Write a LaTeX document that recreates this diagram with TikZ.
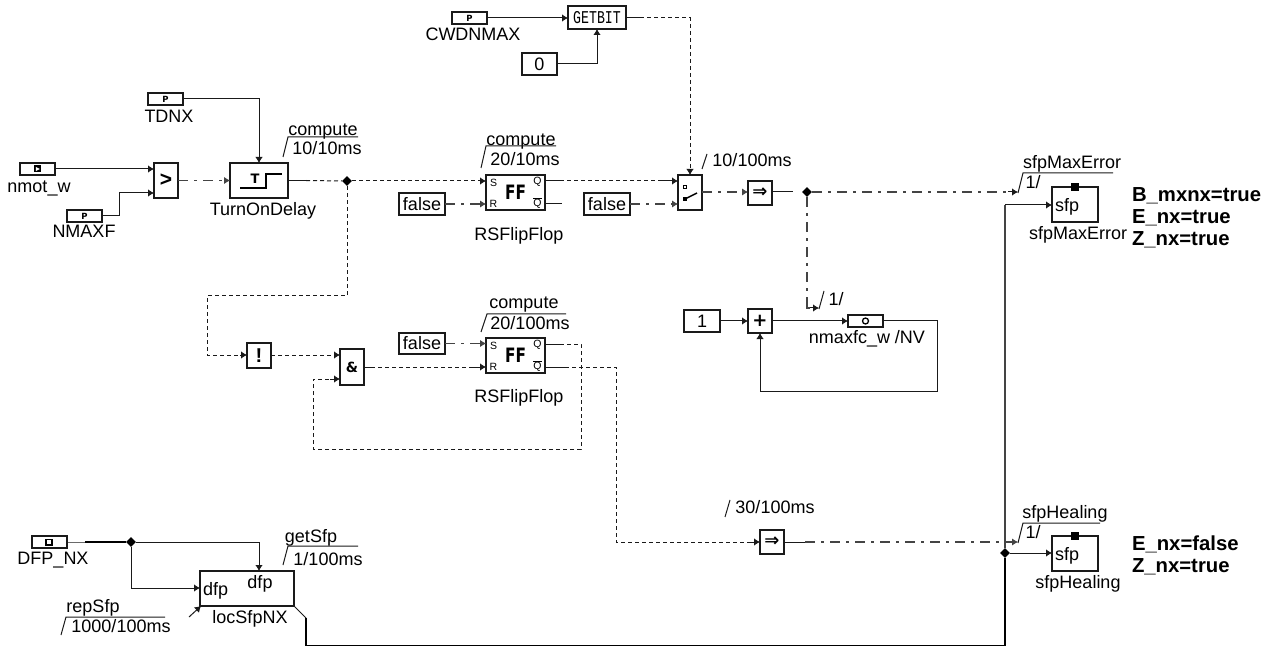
\documentclass[tikz,border=0pt]{standalone}
\usepackage{fontspec}
\setmainfont{Liberation Sans}
\newfontfamily\djv{DejaVu Sans}
\newfontfamily\lmono{Liberation Mono}
\usetikzlibrary{arrows.meta,calc,shapes.geometric}
\definecolor{ln}{HTML}{1a1a1a}
\definecolor{gl}{HTML}{444444}
\tikzset{
  x=1pt,y=-1pt,
  blk/.style={draw=ln,line width=1.1pt,fill=white,inner sep=0pt,outer sep=0pt,font=\fontsize{18}{18}\selectfont},
  lbl/.style={inner sep=0pt,outer sep=0pt,yshift=-1pt,text height=13pt,text depth=4pt,font=\fontsize{18}{18}\selectfont},
  boldlbl/.style={inner sep=0pt,outer sep=0pt,anchor=west,yshift=-1.5pt,text height=14pt,text depth=4pt,font=\fontsize{20.3}{20.3}\selectfont\bfseries},
  sm/.style={inner sep=0pt,outer sep=0pt,font=\fontsize{10.5}{10.5}\selectfont},
  icp/.style={inner sep=0pt,outer sep=0pt,font=\djv\bfseries\fontsize{8.5}{8.5}\selectfont},
  sig/.style={draw=ln,line width=1pt,line join=miter},
  dots/.style={draw=ln,line width=1pt,dash pattern=on 4pt off 3pt},
  dd/.style={draw=gl,line width=1.1pt,dash pattern=on 10pt off 6pt on 3pt off 6pt},
  ar/.style={-{Latex[length=6pt,width=7.5pt]}},
  thickw/.style={draw=black,line width=1.8pt},
  tickl/.style={draw=ln,line width=1pt},
  jn/.style={diamond,fill=black,inner sep=0pt,minimum size=10pt},
}
\newcommand{\blkb}[6]{\node[blk,minimum width=(#4-#2)*1pt,minimum height=(#5-#3)*1pt] (#1) at ({(#2+#4)/2},{(#3+#5)/2}) {#6};}
\newcommand{\ffmark}{\scalebox{.85}[1.1]{\djv\bfseries FF}}
\begin{document}
\begin{tikzpicture}
\useasboundingbox (0,0) rectangle (1270,647);
% ---- parameter / value blocks
\blkb{nmot}{20}{163}{55}{175}{}
\blkb{nmaxf}{67}{210}{102}{222}{}
\blkb{tdnx}{148}{93}{183}{105}{}
\blkb{cwd}{452}{12}{487}{24}{}
\blkb{dfpnx}{32}{536}{67}{548}{}
\blkb{nvb}{848}{315}{883}{327}{}
\blkb{gt}{154}{163}{178}{198}{\fontsize{21}{21}\selectfont\bfseries >}
\blkb{tod}{230}{163}{288}{198}{}
\blkb{getb}{568}{6}{626}{29}{\scalebox{.88}[1.2]{\lmono\fontsize{15}{15}\selectfont GETBIT}}
\blkb{zero}{522}{53}{557}{75}{0}
\blkb{ffa}{486}{175}{545}{210}{\ffmark}
\blkb{ffb}{486}{338}{545}{373}{\ffmark}
\blkb{fa}{399}{193}{445}{215}{false}
\blkb{fb}{584}{193}{630}{215}{false}
\blkb{fc}{399}{333}{445}{354}{false}
\blkb{sw}{678}{175}{702}{210}{}
\blkb{ia}{748}{181}{772}{205}{\djv\bfseries ⇒}
\blkb{ib}{760}{530}{784}{554}{\djv\bfseries ⇒}
\blkb{one}{684}{310}{720}{332}{1}
\blkb{plus}{748}{309}{772}{333}{\djv\bfseries +}
\blkb{nota}{247}{343}{271}{368}{\fontsize{20}{20}\selectfont\bfseries !}
\blkb{anda}{340}{349}{364}{385}{\djv\bfseries\fontsize{14}{14}\selectfont \&}
\blkb{sfpa}{1052}{187}{1098}{222}{}
\blkb{sfpb}{1052}{536}{1098}{571}{}
\blkb{loc}{200}{571}{294}{606}{}
% ---- icons
\node[icp] (pa) at (84.5,216) {P};
\node[icp] (pb) at (165.5,99) {P};
\node[icp] (pc) at (469.5,18) {P};
\fill[black] (34,165.5) rectangle (41,172.5);
\fill[white] (35.8,167) -- (39.8,169) -- (35.8,171) -- cycle;
\fill[black] (45,538.5) rectangle (53,546);
\fill[white] (46.5,540) rectangle (50.5,544);
\draw[black,line width=1.3pt] (865.5,321) circle (3);
\fill[black] (1071,183) rectangle (1079,191);
\fill[black] (1071,532) rectangle (1079,540);
\draw[black,line width=2pt] (240,188) -- (266,188) -- (266,174) -- (282,174);
\node[inner sep=0pt,font=\djv\bfseries\fontsize{13}{13}\selectfont] (tt) at (255,179) {T};
\draw[black,line width=1pt] (685,187) +(-1.5,-1.5) rectangle +(1.5,1.5);
\fill[black] (683,197) rectangle (687,201);
\draw[black,line width=1.4pt] (685,199) -- (697,193);
\node[sm] (sa) at (493.5,183) {S};
\node[sm] (ra) at (493.5,204) {R};
\node[sm] (qa) at (537.5,182) {Q};
\node[sm] (qba) at (537.5,203) {$\overline{\mbox{Q}}$};
\node[sm] (sb) at (493.5,346) {S};
\node[sm] (rb) at (493.5,367) {R};
\node[sm] (qb) at (537.5,345) {Q};
\node[sm] (qbb) at (537.5,366) {$\overline{\mbox{Q}}$};
% ---- labels
\node[lbl] (l1) at (39,187) {nmot\_w};
\node[lbl] (l2) at (84,232) {NMAXF};
\node[lbl] (l3) at (169,117) {TDNX};
\node[lbl] (l4) at (263,210) {TurnOnDelay};
\node[lbl] (l5) at (323,130) {compute};
\node[lbl] (l6) at (327,149) {10/10ms};
\node[lbl] (l7) at (473,35) {CWDNMAX};
\node[lbl] (l8) at (521,140) {compute};
\node[lbl] (l9) at (525,160) {20/10ms};
\node[lbl] (l10) at (519,235) {RSFlipFlop};
\node[lbl] (l11) at (752,161) {10/100ms};
\node[lbl] (l12) at (524,303) {compute};
\node[lbl] (l13) at (530,324) {20/100ms};
\node[lbl] (l14) at (519,397) {RSFlipFlop};
\node[lbl] (l15) at (836,300) {1/};
\node[lbl] (l16) at (867,338) {nmaxfc\_w /NV};
\node[lbl] (l17) at (1072,163) {sfpMaxError};
\node[lbl] (l18) at (1033,183) {1/};
\node[lbl,anchor=west] (l19) at (1055,206) {sfp};
\node[lbl] (l20) at (1078,234) {sfpMaxError};
\node[lbl] (l21) at (1065,513) {sfpHealing};
\node[lbl] (l22) at (1033,533) {1/};
\node[lbl,anchor=west] (l23) at (1055,555) {sfp};
\node[lbl] (l24) at (1078,583) {sfpHealing};
\node[lbl] (l25) at (775,508) {30/100ms};
\node[lbl] (l26) at (53,559) {DFP\_NX};
\node[lbl] (l27) at (311,537) {getSfp};
\node[lbl] (l28) at (328,560) {1/100ms};
\node[lbl,anchor=west] (l29) at (203,590) {dfp};
\node[lbl] (l30) at (260,583) {dfp};
\node[lbl] (l31) at (250,618) {locSfpNX};
\node[lbl] (l32) at (93,607) {repSfp};
\node[lbl] (l33) at (121,627) {1000/100ms};
\node[boldlbl] (b1) at (1132,195) {B\_mxnx=true};
\node[boldlbl] (b2) at (1132,217) {E\_nx=true};
\node[boldlbl] (b3) at (1132,239) {Z\_nx=true};
\node[boldlbl] (b4) at (1132,544) {E\_nx=false};
\node[boldlbl] (b5) at (1132,566) {Z\_nx=true};
% ---- tick marks
\draw[tickl] (283,157) -- (288,137) -- (358,137);
\draw[tickl] (481,168) -- (486,146) -- (556,146);
\draw[tickl] (702,169) -- (707,154);
\draw[tickl] (481,332) -- (487,314) -- (566,314);
\draw[tickl] (819,309) -- (824,291);
\draw[tickl] (1018,193) -- (1023,173) -- (1113,173);
\draw[tickl] (1018,543) -- (1023,523) -- (1100,523);
\draw[tickl] (725,517) -- (730,500);
\draw[tickl] (283,565) -- (288,546) -- (358,546);
\draw[tickl] (61,635) -- (66,617) -- (165,617);
\draw[tickl,ar] (189,617) -- (201,606);
% ---- junctions
\node[jn] (j1) at (347,181) {};
\node[jn] (j2) at (807,192) {};
\node[jn] (j3) at (1005,553) {};
\node[jn] (j4) at (131,542) {};
% ---- way points
\coordinate (tf) at (1018,192);
\coordinate (thf) at (1018,542);
\coordinate (nvt) at (819,308);
% ---- connectors
\draw[sig,ar] (nmot.east) -- (gt.west |- nmot.east);
\draw[sig,ar] (nmaxf.east) -- (119,216) -- (119,193) -- (gt.west |- 0,193);
\draw[sig,ar] (tdnx.east) -- (tod.north |- tdnx.east) -- (tod.north);
\draw[sig,ar] (cwd.east) -- (getb.west |- cwd.east);
\draw[sig,ar] (zero.east) -- (597,64) -- (597,29);
\draw[dd,ar] (gt.east |- tod.east) -- (tod.west);
\draw[sig] (tod.east) -- (306,180.5);
\draw[dots] (306,180.5) -- (j1);
\draw[dots,ar] (j1) -- (ffa.west |- 0,181);
\draw[dots] (j1) -- (347,296) -- (207,296) -- (207,355) -- (240,355);
\draw[sig,ar] (240,355) -- (nota.west |- 0,355);
\draw[dots,ar] (nota.east |- 0,355) -- (anda.west |- 0,355);
\draw[dots] (anda.east) -- (470,367);
\draw[sig] (anda.east) -- (372,367);
\draw[sig,ar] (470,367) -- (ffb.west |- 0,367);
\draw[dd,ar] (fa.east) -- (ffa.west |- fa.east);
\draw[dd,ar] (fc.east) -- (ffb.west |- fc.east);
\draw[dd,ar] (fb.east) -- (sw.west |- fb.east);
\draw[sig] (ffa.east |- 0,181) -- (560,181);
\draw[dots] (560,181) -- (662,181);
\draw[sig,ar] (662,181) -- (sw.west |- 0,181);
\draw[sig] (ffa.east |- 0,204) -- (562,204);
\draw[sig] (getb.east |- cwd.east) -- (640,18);
\draw[dots,ar] (640,18) -- (690,18) -- (sw.north);
\draw[dd,ar] (sw.east |- 0,192) -- (ia.west |- 0,192);
\draw[sig] (ia.east |- 0,192) -- (793,192);
\draw[dd] (j2) -- (1008,192);
\draw[sig,ar] (1008,192) -- (tf);
\draw[dd] (j2) -- (807,300);
\draw[draw=gl,line width=1.1pt] (807,300) -- (807,308) -- (810,308);
\draw[sig,ar] (810,308) -- (nvt);
\draw[sig,ar] (one.east) -- (plus.west);
\draw[sig,ar] (plus.east) -- (nvb.west);
\draw[sig,ar] (nvb.east) -- (937,321) -- (937,391) -- (760,391) -- (plus.south);
\draw[sig] (ffb.east |- 0,344) -- (560,344);
\draw[dots] (560,344) -- (581,344) -- (581,449) -- (313,449) -- (313,379) -- (330,379);
\draw[sig,ar] (330,379) -- (anda.west |- 0,379);
\draw[sig] (ffb.east |- 0,367) -- (565,367);
\draw[dots] (565,367) -- (616,367) -- (616,542) -- (750,542);
\draw[sig,ar] (750,542) -- (ib.west);
\draw[sig] (ib.east) -- (805,542);
\draw[dd] (805,542) -- (1005,542);
\draw[draw=gl,line width=1.1pt,ar] (1005,542) -- (thf);
\draw[sig,ar] (dfpnx.east) -- (85,542) -- (j4) -- (259,542) -- (259,571);
\draw[black,line width=2pt] (85,542) -- (j4);
\draw[sig,ar] (j4) -- (131,588) -- (loc.west |- 0,588);
\draw[sig,ar] (j3) -- (sfpb.west |- j3);
\draw[sig,ar] (1005,205) -- (sfpa.west |- 0,205);
\draw[draw=gl,line width=1.2pt] (1005,205) -- (j3);
\draw[sig] (loc.south east) -- (306,618);
\draw[thickw] (306,618) -- (306,645.5) -- (1005,645.5) -- (j3);
\end{tikzpicture}
\end{document}
